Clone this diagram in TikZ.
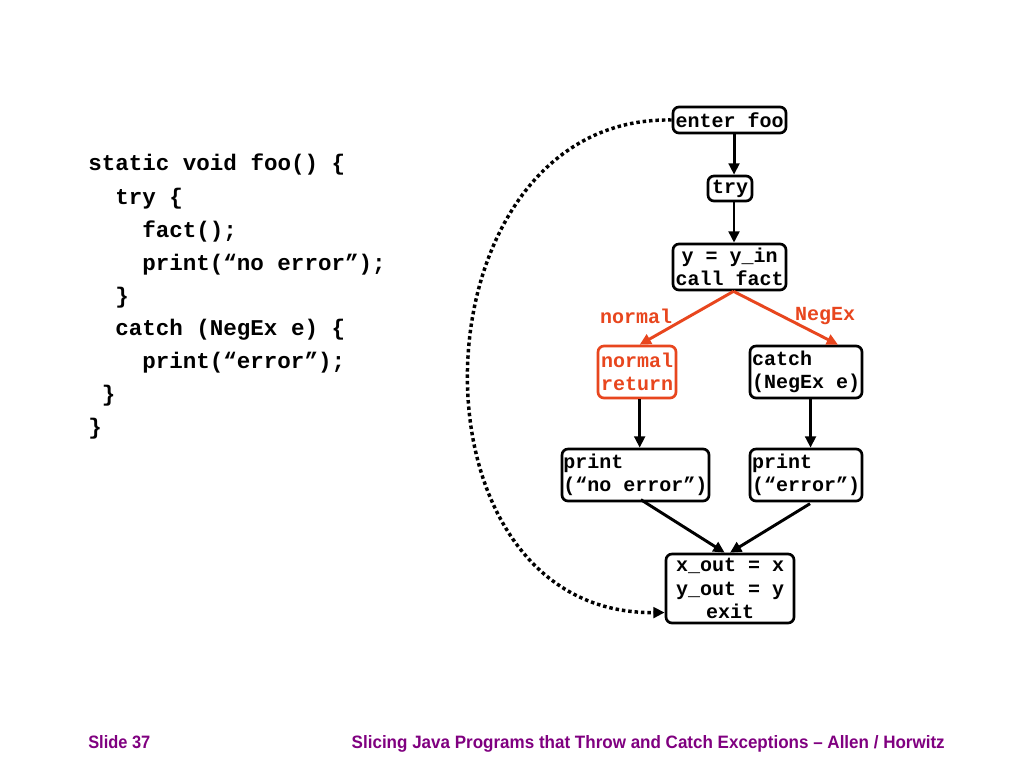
\documentclass[tikz,border=0pt]{standalone}
\usepackage{fontspec}
\setmainfont{Liberation Sans}
\setmonofont{Liberation Mono}
\newfontfamily\footfont{Liberation Sans}
\usetikzlibrary{arrows.meta}
\definecolor{slidered}{HTML}{E8461E}
\definecolor{slidepurple}{HTML}{800080}
\tikzset{
  codeline/.style={anchor=base west, inner sep=0pt, font=\fontsize{16.9}{20}\selectfont\ttfamily\bfseries},
  gnode/.style={draw, line width=2pt, rounded corners=4.5pt, inner sep=1pt,
    font=\fontsize{15}{17.5}\selectfont\ttfamily\bfseries},
  elabel/.style={inner sep=0pt, text=slidered, font=\fontsize{15}{17.5}\selectfont\ttfamily\bfseries},
  arr/.style={line width=2.2pt, -{Triangle[length=8.5pt,width=8pt]}},
  redarr/.style={arr, draw=slidered, color=slidered},
  dotarr/.style={line width=2.6pt, dash pattern=on 2.6pt off 2.2pt, -{Triangle[length=8.5pt,width=8pt]}},
  foot/.style={inner sep=0pt, text=slidepurple, font=\footfont\bfseries\fontsize{13.5}{16}\selectfont}
}
\begin{document}
\begin{tikzpicture}[x=0.75pt,y=-0.75pt]
\useasboundingbox[fill=white] (0,0) rectangle (1024,768);

% code
\node[codeline] (c1) at (88,170) {static void foo() \{};
\node[codeline] (c2) at (115,204) {try \{};
\node[codeline] (c3) at (142,237) {fact();};
\node[codeline] (c4) at (142,270) {print(“no error”);};
\node[codeline] (c5) at (115,303) {\}};
\node[codeline] (c6) at (115,335) {catch (NegEx e) \{};
\node[codeline] (c7) at (142,368) {print(“error”);};
\node[codeline] (c8) at (101.5,401) {\}};
\node[codeline] (c9) at (88,434) {\}};

% graph nodes
\node[gnode, minimum width={113*0.75pt}, minimum height={26*0.75pt}] (enter) at (729.5,120) {enter foo};
\node[gnode, minimum width={44*0.75pt}, minimum height={25*0.75pt}] (try) at (730,188.5) {try};
\node[gnode, minimum width={113*0.75pt}, minimum height={46*0.75pt}, align=center] (call) at (729.5,267) {y = y\_in\\call fact};
\node[gnode, draw=slidered, text=slidered, minimum width={78*0.75pt}, minimum height={52*0.75pt}, align=left] (normret) at (637,372) {normal\\return};
\node[gnode, minimum width={112*0.75pt}, minimum height={52*0.75pt}, align=left] (catch) at (806,372) {catch\\ (NegEx e)};
\node[gnode, minimum width={147*0.75pt}, minimum height={52*0.75pt}, align=left] (pne) at (635.5,475) {print\\(“no error”)};
\node[gnode, minimum width={112*0.75pt}, minimum height={52*0.75pt}, align=left] (pe) at (806,475) {print\\(“error”)};
\node[gnode, minimum width={128*0.75pt}, minimum height={69*0.75pt}, align=center] (exit) at (730,588.5) {x\_out = x\\y\_out = y\\exit};

% edge labels
\node[elabel] (lnormal) at (636,316) {normal};
\node[elabel] (lnegex) at (825,316) {NegEx};

% edges
\draw[arr] ([xshift=3.4pt]enter.south) -- ([xshift=3.4pt]enter.south |- try.north);
\draw[arr] ([xshift=3pt]try.south) -- ([xshift=3pt]try.south |- call.north);
\draw[redarr] ([xshift=3pt]call.south) -- ([xshift=2pt]normret.north);
\draw[redarr] ([xshift=3pt]call.south) -- ([xshift=24pt]catch.north);
\draw[arr] ([xshift=2pt]normret.south) -- ([xshift=2pt]normret.south |- pne.north);
\draw[arr] ([xshift=3.4pt]catch.south) -- ([xshift=3.4pt]catch.south |- pe.north);
\draw[arr] ([xshift=4pt,yshift=2pt]pne.south) -- ([xshift=-4pt]exit.north);
\draw[arr] ([xshift=3pt,yshift=-1pt]pe.south) -- ([xshift=0pt]exit.north);
\draw[dotarr] (enter.west) .. controls (410,115) and (395,615) .. ([yshift=-18pt]exit.west);

% footer
\node[foot, anchor=base west] (slide) at (88,748) {\resizebox{46.5pt}{9.75pt}{Slide 37}};
\node[foot, anchor=base east] (title) at (945,748) {\resizebox{444.75pt}{9.75pt}{Slicing Java Programs that Throw and Catch Exceptions – Allen / Horwitz}};
\end{tikzpicture}
\end{document}
